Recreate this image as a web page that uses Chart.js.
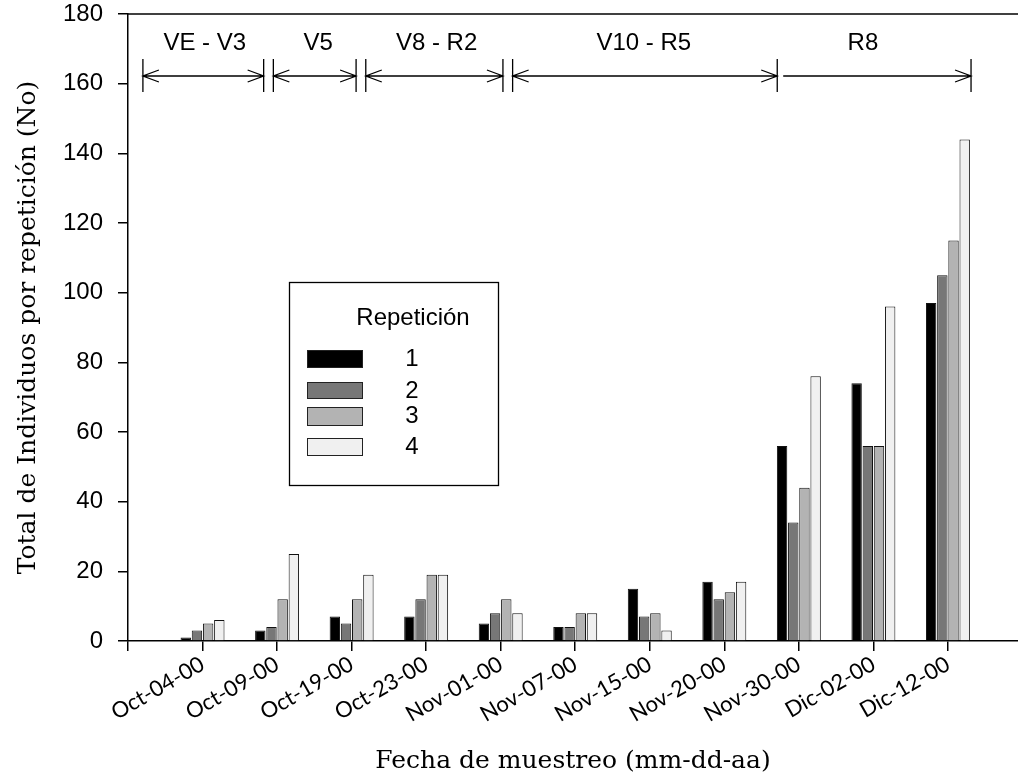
<!DOCTYPE html>
<html lang="es">
<head>
<meta charset="UTF-8">
<title>Total de Individuos por repetición</title>
<style>
  body { margin: 0; background: #fff; }
</style>
</head>
<body>
<canvas id="myChart" width="1018" height="784"></canvas>

<script src="https://cdn.jsdelivr.net/npm/chart.js"></script>
<script>
// fechas de muestreo (posicion 1..11 en el eje x)
const v_fechas = ["Oct-04-00", "Oct-09-00", "Oct-19-00", "Oct-23-00", "Nov-01-00", "Nov-07-00",
                  "Nov-15-00", "Nov-20-00", "Nov-30-00", "Dic-02-00", "Dic-12-00"];

// individuos por repeticion
const v_rep1 = [1, 3, 7, 7, 5, 4, 15, 17, 56, 74, 97];
const v_rep2 = [3, 4, 5, 12, 8, 4, 7, 12, 34, 56, 105];
const v_rep3 = [5, 12, 12, 19, 12, 8, 8, 14, 44, 56, 115];
const v_rep4 = [6, 25, 19, 19, 8, 8, 3, 17, 76, 96, 144];

const v_repNombres = ["1", "2", "3", "4"];
const v_colores = ["#000000", "#777777", "#b3b3b3", "#f0f0f0"];

// etapas fenologicas (en unidades del eje x)
const v_etapas = ["VE - V3", "V5", "V8 - R2", "V10 - R5", "R8"];
const v_etapaInicio = [0.2, 1.95, 3.19, 5.16, 8.79];
const v_etapaFin = [1.82, 3.06, 5.03, 8.71, 11.31];
const v_etapaTexto = [1.03, 2.55, 4.14, 6.92, 9.86];
const v_flechaIzq = [true, true, true, true, false];

const SANS = "'Liberation Sans', Arial, sans-serif";
const SERIF = "'DejaVu Serif', serif";
const HUMAN = "Lato, 'DejaVu Sans', sans-serif";

let v_datasets = [];
let v_series = [v_rep1, v_rep2, v_rep3, v_rep4];
for (let i = 0; i < v_series.length; i++) {
    let v_temp = {};
    v_temp["label"] = v_repNombres[i];
    v_temp["data"] = v_series[i].map((v, k) => ({ x: k + 1, y: v }));
    v_temp["backgroundColor"] = v_colores[i];
    v_temp["borderColor"] = "#111";
    v_temp["borderWidth"] = 1;
    v_temp["barPercentage"] = 0.93;
    v_temp["categoryPercentage"] = 0.6;
    v_datasets.push(v_temp);
}

// flechas y etiquetas de etapas
const anotaciones = {
    id: "anotaciones",
    afterDraw(chart) {
        const ctx = chart.ctx;
        const sx = chart.scales.x, sy = chart.scales.y;
        const yF = sy.getPixelForValue(162.2);
        const yA = sy.getPixelForValue(167.1);
        const yB = sy.getPixelForValue(157.6);
        const yT = sy.getPixelForValue(171.7);
        ctx.save();
        // linea superior del marco
        ctx.strokeStyle = "#000";
        ctx.lineWidth = 1.5;
        ctx.beginPath();
        ctx.moveTo(chart.chartArea.left, chart.chartArea.top);
        ctx.lineTo(chart.chartArea.right, chart.chartArea.top);
        ctx.stroke();

        ctx.fillStyle = "#000";
        ctx.lineWidth = 1.3;
        ctx.font = "24px " + SANS;
        ctx.textAlign = "center";
        ctx.textBaseline = "middle";
        for (let i = 0; i < v_etapas.length; i++) {
            const x1 = sx.getPixelForValue(v_etapaInicio[i]);
            const x2 = sx.getPixelForValue(v_etapaFin[i]);
            ctx.beginPath();
            ctx.moveTo(x1, yF); ctx.lineTo(x2, yF);
            ctx.moveTo(x2, yA); ctx.lineTo(x2, yB);
            ctx.moveTo(x2 - 16, yF - 6); ctx.lineTo(x2, yF); ctx.lineTo(x2 - 16, yF + 6);
            if (v_flechaIzq[i]) {
                ctx.moveTo(x1, yA); ctx.lineTo(x1, yB);
                ctx.moveTo(x1 + 16, yF - 6); ctx.lineTo(x1, yF); ctx.lineTo(x1 + 16, yF + 6);
            }
            ctx.stroke();
            ctx.fillText(v_etapas[i], sx.getPixelForValue(v_etapaTexto[i]), yT);
        }
        ctx.restore();
    }
};

// leyenda dibujada a mano dentro del area
const leyenda = {
    id: "leyenda",
    afterDraw(chart) {
        const ctx = chart.ctx;
        ctx.save();
        ctx.strokeStyle = "#000";
        ctx.lineWidth = 1.3;
        ctx.strokeRect(289.5, 282.5, 209, 203);
        ctx.fillStyle = "#000";
        ctx.font = "24px " + SANS;
        ctx.textAlign = "center";
        ctx.textBaseline = "middle";
        ctx.fillText("Repetición", 413, 318);
        const cajas = [[350, 18], [382, 17], [407, 19], [438, 18]];
        const textoY = [359, 391, 416, 447];
        for (let i = 0; i < v_repNombres.length; i++) {
            ctx.fillStyle = v_colores[i];
            ctx.fillRect(307, cajas[i][0], 56, cajas[i][1]);
            ctx.lineWidth = 1;
            ctx.strokeStyle = "#222";
            ctx.strokeRect(307.5, cajas[i][0] + 0.5, 55, cajas[i][1] - 1);
            ctx.fillStyle = "#000";
            ctx.fillText(v_repNombres[i], 412, textoY[i]);
        }
        ctx.restore();
    }
};

const ctx = document.getElementById("myChart");

new Chart(ctx, {
    type: "bar",
    data: {
        datasets: v_datasets
    },
    options: {
        responsive: false,
        animation: false,
        layout: {
            padding: { top: 14, right: 0, bottom: 0, left: 0 }
        },
        plugins: {
            legend: { display: false },
            tooltip: { enabled: false }
        },
        scales: {
            x: {
                type: "linear",
                offset: false,
                min: 0,
                max: 11.94,
                afterFit: (scale) => { scale.height = 143; },
                grid: {
                    offset: false,
                    drawOnChartArea: false,
                    tickLength: 10,
                    color: "#000",
                    lineWidth: 1.5
                },
                border: { color: "#000", width: 1.5 },
                ticks: {
                    stepSize: 1,
                    includeBounds: false,
                    autoSkip: false,
                    maxRotation: 30,
                    minRotation: 30,
                    padding: 0,
                    color: "#000",
                    font: { family: HUMAN, size: 22 },
                    callback: (value) => (value >= 1 && value <= v_fechas.length) ? v_fechas[value - 1] : ""
                },
                title: {
                    display: true,
                    text: "Fecha de muestreo (mm-dd-aa)",
                    color: "#000",
                    font: { family: SERIF, size: 25, weight: "normal" },
                    padding: { top: 0, bottom: 8 }
                }
            },
            y: {
                min: 0,
                max: 180,
                // el padding de las etiquetas no debe empujar el area hacia abajo
                afterFit: (scale) => { scale.width = 128; scale.paddingTop = 0; },
                grid: {
                    drawOnChartArea: false,
                    tickLength: 10,
                    color: "#000",
                    lineWidth: 1.5
                },
                border: { color: "#000", width: 1.5 },
                ticks: {
                    stepSize: 20,
                    padding: 15,
                    color: "#000",
                    font: { family: SANS, size: 24 }
                },
                title: {
                    display: true,
                    text: "Total de Individuos por repetición (No)",
                    color: "#000",
                    font: { family: SERIF, size: 25, weight: "normal" },
                    padding: { top: 13, bottom: 0 }
                }
            }
        }
    },
    plugins: [anotaciones, leyenda]
});
</script>
</body>
</html>
